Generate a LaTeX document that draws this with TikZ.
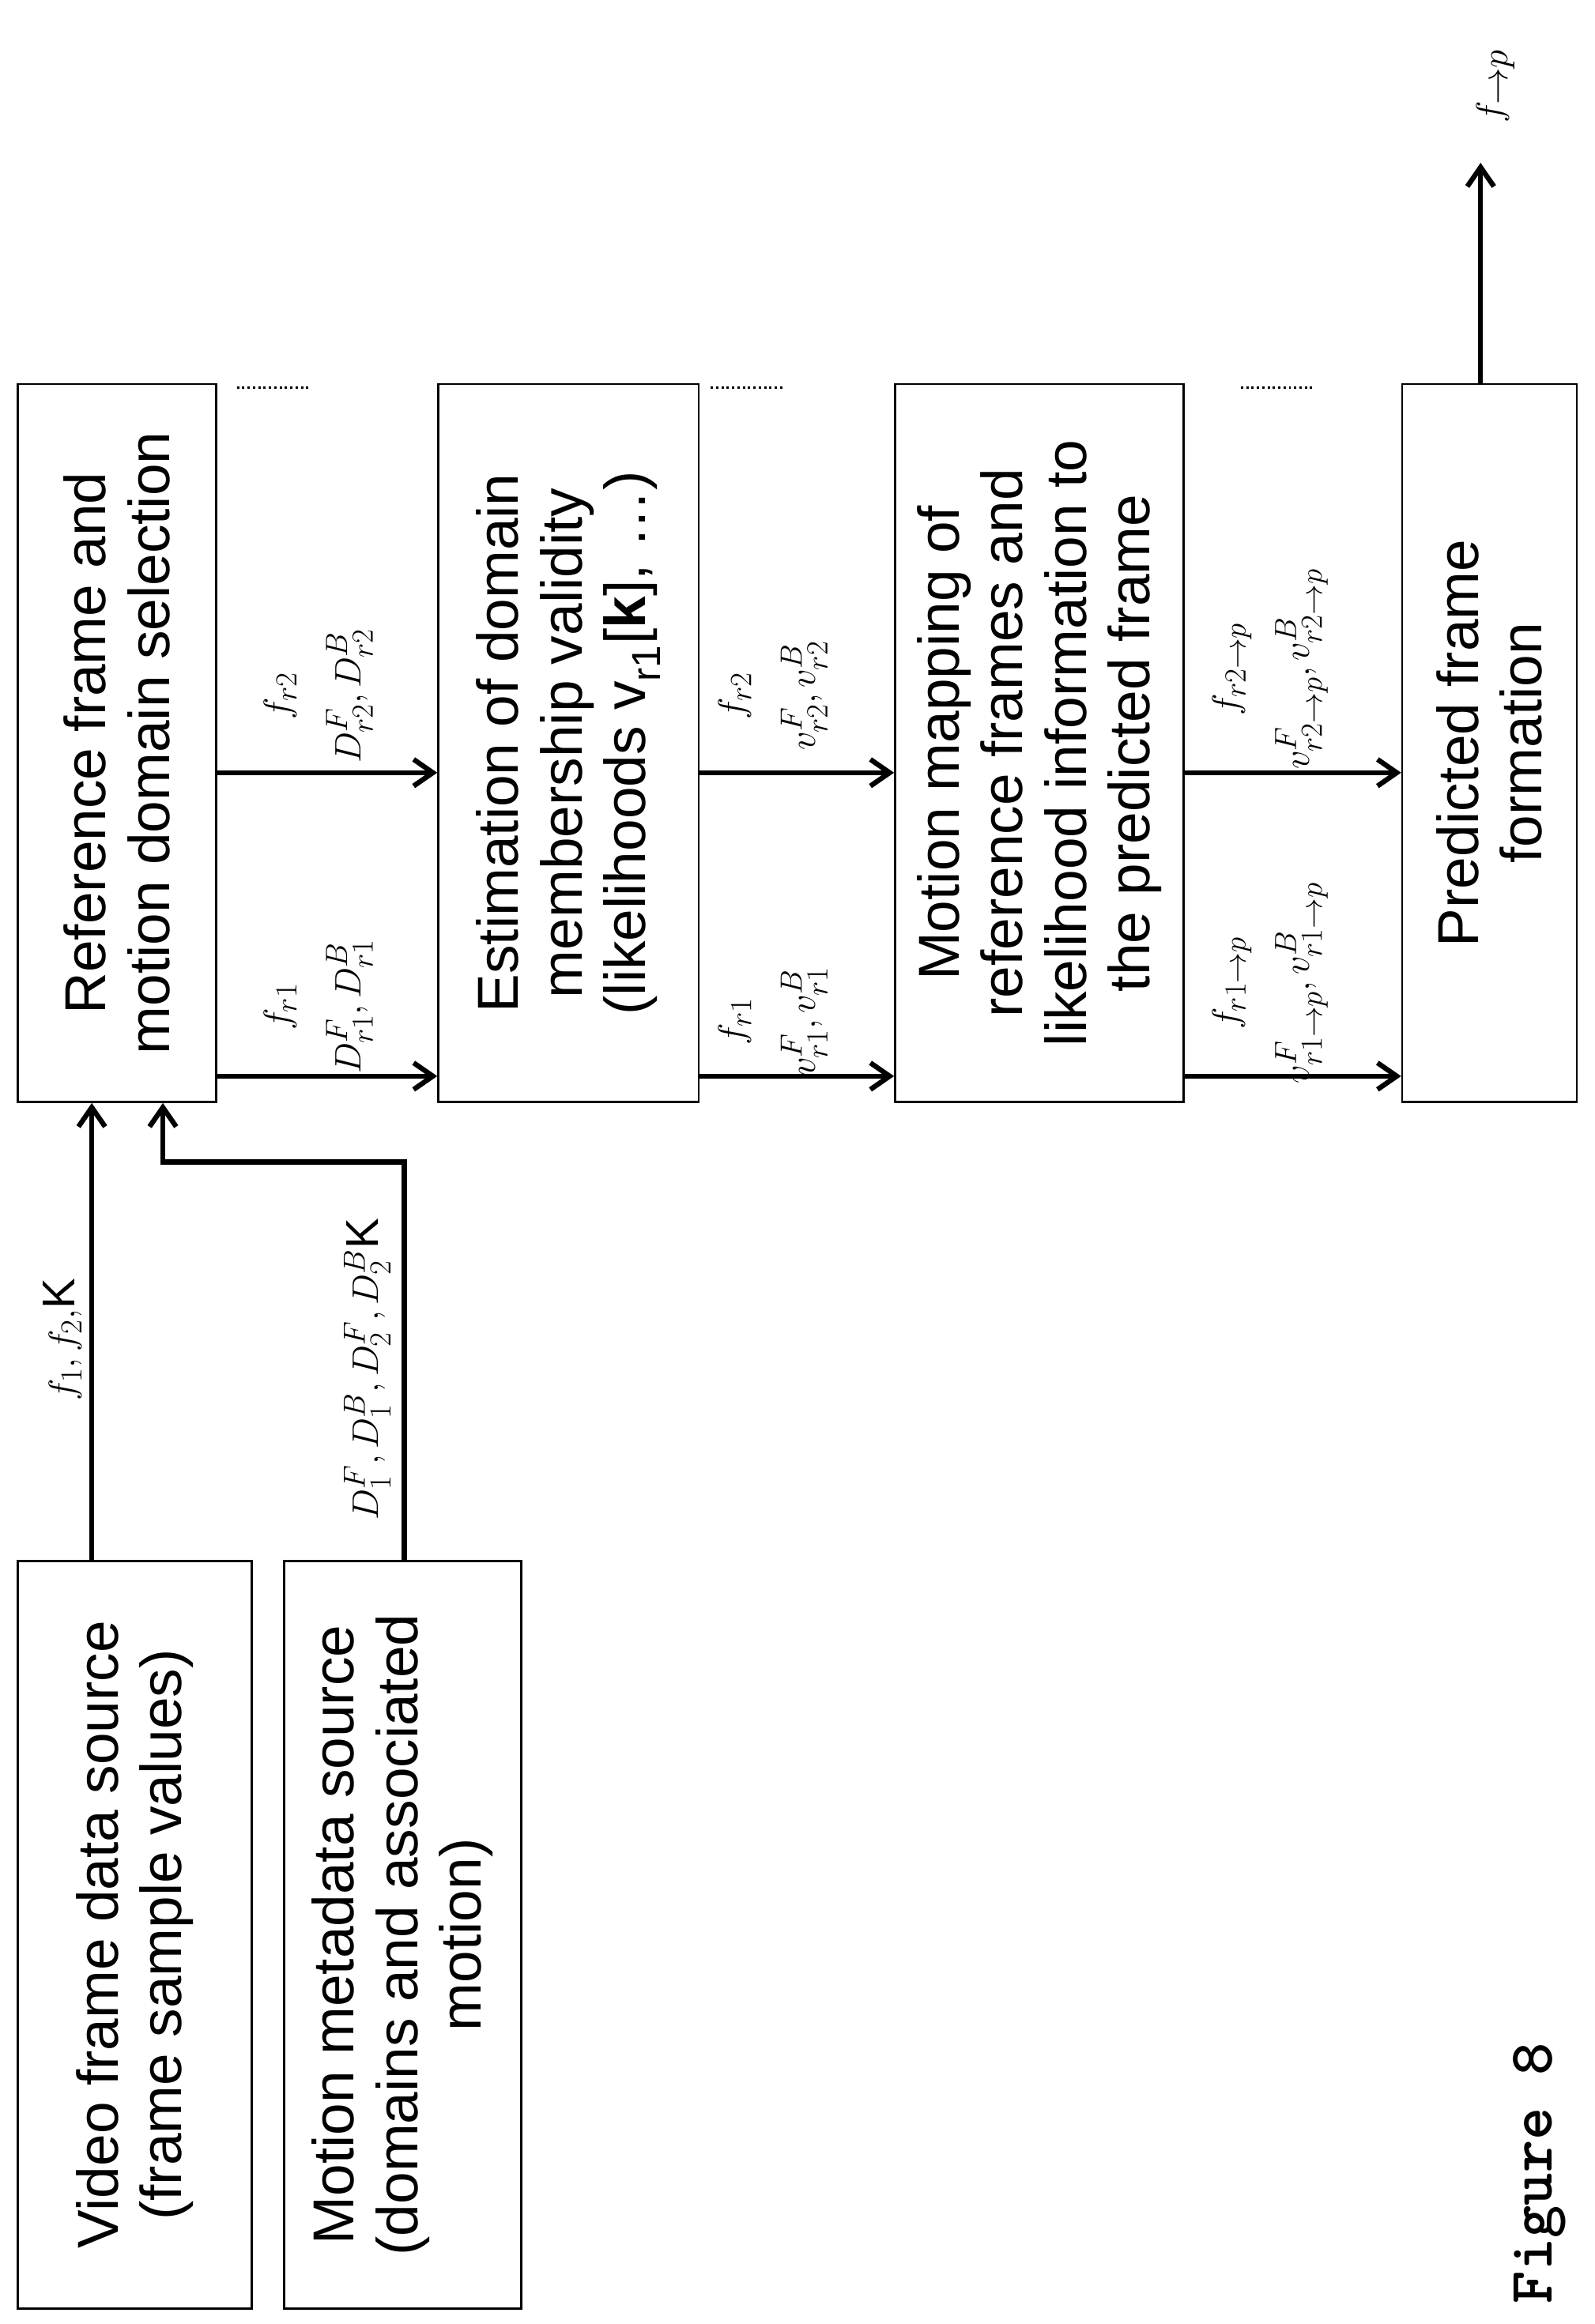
\documentclass[tikz,border=0pt]{standalone}
\usepackage{amsmath}
\usepackage{fontspec}
\setmainfont{Liberation Sans}
\usetikzlibrary{arrows.meta}
\usetikzlibrary{positioning}

\tikzset{
  box/.style={draw, line width=1.3pt, rotate=90, align=center, inner sep=4pt,
    font=\fontsize{39}{43}\selectfont},
  flow/.style={line width=3.4pt, -{Straight Barb[length=13pt,width=18pt,line width=3.4pt]}},
  lab/.style={rotate=90, align=center, inner sep=0pt, font=\fontsize{31}{48}\selectfont},
  dots/.style={line width=1.6pt, dotted}
}

\begin{document}
\begin{tikzpicture}[x=1pt,y=-1pt]
          \useasboundingbox (0,0) rectangle (1077,1570);

          % boxes
          \node[box, minimum width=485pt, minimum height=134pt] (sel) at (79,502)
            {Reference frame and\\motion domain selection};
          \node[box, minimum width=485pt, minimum height=176pt] (est) at (384,502)
            {Estimation of domain\\membership validity\\(likelihoods v$_{\text{r1}}$[\textbf{k}], \ldots)};
          \node[box, minimum width=485pt, minimum height=195pt] (map) at (702,502)
            {Motion mapping of\\reference frames and\\likelihood information to\\the predicted frame};
          \node[box, minimum width=485pt, minimum height=118pt] (form) at (1006,502)
            {Predicted frame\\formation};
          \node[box, minimum width=505pt, minimum height=158pt] (vid) at (91,1307)
            {Video frame data source\\(frame sample values)};
          \node[box, minimum width=505pt, minimum height=160pt] (meta) at (272,1307)
            {Motion metadata source\\(domains and associated\\motion)};

          % inputs
          \draw[flow] (vid.east -| 62,0) -- (sel.west -| 62,0);
          \coordinate (m1) at (273,785);
          \coordinate (m2) at (110,785);
          \draw[flow] (meta.east -| 273,0) -- (m1) -- (m2) -- (sel.west -| 110,0);
          \node[lab] at (42,905) {$f_1,f_2,$K};
          \node[lab] at (248,925) {$D_1^F,D_1^B,D_2^F,D_2^B$K};

          % stage arrows
          \foreach \y in {727,522} {
            \draw[flow] (sel.south |- 0,\y) -- (est.north |- 0,\y);
            \draw[flow] (est.south |- 0,\y) -- (map.north |- 0,\y);
            \draw[flow] (map.south |- 0,\y) -- (form.north |- 0,\y);
          }
          \node[lab] at (215,680) {$f_{r1}$\\$D^F_{r1},D^B_{r1}$};
          \node[lab] at (215,470) {$f_{r2}$\\$D^F_{r2},D^B_{r2}$};
          \node[lab] at (522,690) {$f_{r1}$\\$v^F_{r1},v^B_{r1}$};
          \node[lab] at (522,470) {$f_{r2}$\\$v^F_{r2},v^B_{r2}$};
          \node[lab, font=\fontsize{29}{48}\selectfont] at (858,664) {$f_{r1\to p}$\\$v^F_{r1\to p},v^B_{r1\to p}$};
          \node[lab, font=\fontsize{29}{48}\selectfont] at (858,452) {$f_{r2\to p}$\\$v^F_{r2\to p},v^B_{r2\to p}$};

          % dotted continuation marks
          \draw[dots] (160,262) -- (210,262);
          \draw[dots] (480,262) -- (530,262);
          \draw[dots] (838,262) -- (888,262);

          % output
          \coordinate (o0) at (1000,260);
          \coordinate (out) at (1000,110);
          \draw[flow] (o0) -- (out);
          \node[lab, font=\fontsize{40}{44}\selectfont] at (1010,58) {$f_{\to p}$};

          \node[rotate=90, font=\fontsize{42}{46}\ttfamily\bfseries] (fig) at (1040,1468) {Figure 8};
        \end{tikzpicture}
\end{document}
